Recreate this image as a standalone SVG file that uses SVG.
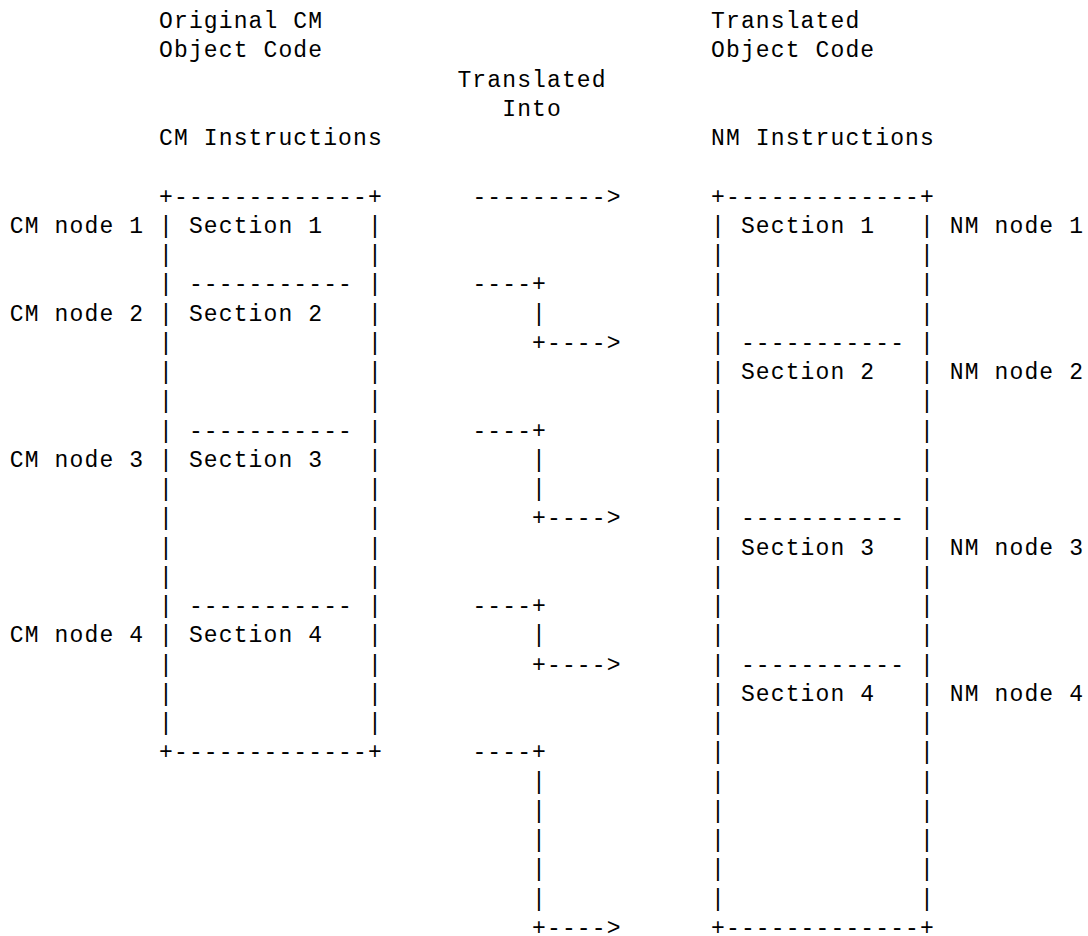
<svg xmlns="http://www.w3.org/2000/svg" width="1088" height="936" viewBox="0 0 1088 936" xml:space="preserve">
<style>
text { font-family: "Liberation Mono", "Courier New", monospace; font-size: 23px; letter-spacing: 1.118px; fill: #000; white-space: pre; }
</style>
<rect width="1088" height="936" fill="#fff"/>
<g id="header-cm">
<text x="159.06" y="28.2">Original CM</text>
<text x="159.06" y="57.45">Object Code</text>
<text x="159.06" y="145.2">CM Instructions</text>
</g>
<g id="header-nm">
<text x="711.1" y="28.2">Translated</text>
<text x="711.1" y="57.45">Object Code</text>
<text x="711.1" y="145.2">NM Instructions</text>
</g>
<g id="label-translated-into">
<text x="457.46" y="86.7">Translated</text>
<text x="502.22" y="115.95">Into</text>
</g>
<g id="cm-box">
<text x="159.06" y="203.7">+-------------+</text>
<text x="159.06" y="232.95">| Section 1   |</text>
<text x="159.06" y="262.2">|             |</text>
<text x="159.06" y="291.45">| ----------- |</text>
<text x="159.06" y="320.7">| Section 2   |</text>
<text x="159.06" y="349.95">|             |</text>
<text x="159.06" y="379.2">|             |</text>
<text x="159.06" y="408.45">|             |</text>
<text x="159.06" y="437.7">| ----------- |</text>
<text x="159.06" y="466.95">| Section 3   |</text>
<text x="159.06" y="496.2">|             |</text>
<text x="159.06" y="525.45">|             |</text>
<text x="159.06" y="554.7">|             |</text>
<text x="159.06" y="583.95">|             |</text>
<text x="159.06" y="613.2">| ----------- |</text>
<text x="159.06" y="642.45">| Section 4   |</text>
<text x="159.06" y="671.7">|             |</text>
<text x="159.06" y="700.95">|             |</text>
<text x="159.06" y="730.2">|             |</text>
<text x="159.06" y="759.45">+-------------+</text>
</g>
<g id="nm-box">
<text x="711.1" y="203.7">+-------------+</text>
<text x="711.1" y="232.95">| Section 1   |</text>
<text x="711.1" y="262.2">|             |</text>
<text x="711.1" y="291.45">|             |</text>
<text x="711.1" y="320.7">|             |</text>
<text x="711.1" y="349.95">| ----------- |</text>
<text x="711.1" y="379.2">| Section 2   |</text>
<text x="711.1" y="408.45">|             |</text>
<text x="711.1" y="437.7">|             |</text>
<text x="711.1" y="466.95">|             |</text>
<text x="711.1" y="496.2">|             |</text>
<text x="711.1" y="525.45">| ----------- |</text>
<text x="711.1" y="554.7">| Section 3   |</text>
<text x="711.1" y="583.95">|             |</text>
<text x="711.1" y="613.2">|             |</text>
<text x="711.1" y="642.45">|             |</text>
<text x="711.1" y="671.7">| ----------- |</text>
<text x="711.1" y="700.95">| Section 4   |</text>
<text x="711.1" y="730.2">|             |</text>
<text x="711.1" y="759.45">|             |</text>
<text x="711.1" y="788.7">|             |</text>
<text x="711.1" y="817.95">|             |</text>
<text x="711.1" y="847.2">|             |</text>
<text x="711.1" y="876.45">|             |</text>
<text x="711.1" y="905.7">|             |</text>
<text x="711.1" y="934.95">+-------------+</text>
</g>
<g id="cm-node-1"><text x="9.86" y="232.95">CM node 1</text></g>
<g id="cm-node-2"><text x="9.86" y="320.7">CM node 2</text></g>
<g id="cm-node-3"><text x="9.86" y="466.95">CM node 3</text></g>
<g id="cm-node-4"><text x="9.86" y="642.45">CM node 4</text></g>
<g id="nm-node-1"><text x="949.82" y="232.95">NM node 1</text></g>
<g id="nm-node-2"><text x="949.82" y="379.2">NM node 2</text></g>
<g id="nm-node-3"><text x="949.82" y="554.7">NM node 3</text></g>
<g id="nm-node-4"><text x="949.82" y="700.95">NM node 4</text></g>
<g id="connectors">
<text x="472.38" y="203.7">---------&gt;</text>
<text x="472.38" y="291.45">----+</text>
<text x="532.06" y="320.7">|</text>
<text x="532.06" y="349.95">+----&gt;</text>
<text x="472.38" y="437.7">----+</text>
<text x="532.06" y="466.95">|</text>
<text x="532.06" y="496.2">|</text>
<text x="532.06" y="525.45">+----&gt;</text>
<text x="472.38" y="613.2">----+</text>
<text x="532.06" y="642.45">|</text>
<text x="532.06" y="671.7">+----&gt;</text>
<text x="472.38" y="759.45">----+</text>
<text x="532.06" y="788.7">|</text>
<text x="532.06" y="817.95">|</text>
<text x="532.06" y="847.2">|</text>
<text x="532.06" y="876.45">|</text>
<text x="532.06" y="905.7">|</text>
<text x="532.06" y="934.95">+----&gt;</text>
</g>
</svg>
